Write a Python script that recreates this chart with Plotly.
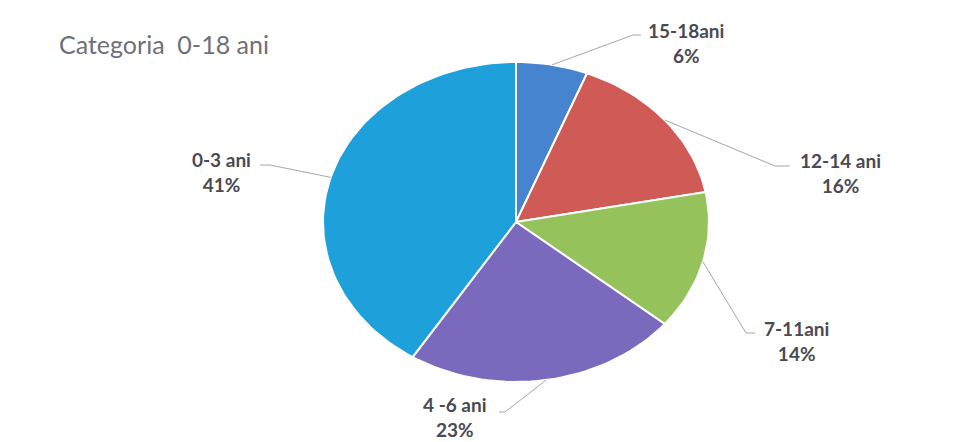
import numpy as np
import plotly.graph_objects as go

# ---- data ----
categories = ["15-18ani", "12-14 ani", "7-11ani", "4 -6 ani", "0-3 ani"]
values = [6, 16, 14, 23, 41]
colors = ["#4784d0", "#d05a55", "#96c25b", "#7b69bd", "#1ea0db"]

# ---- geometry of the (elliptical) pie, in page pixels ----
W, H = 959, 442
OFF = 8  # default page body margin
cx, cy, rx, ry = 516, 222, 193, 160

# label blocks: centre of text (x, y) and leader elbow (ex, ey, hx)
label_pos = [
    (686, 43, 633, 35, 641),
    (840, 173, 775, 166, 790),
    (796, 341, 746, 333, 755),
    (455, 417, 505, 412, 499),
    (221, 172, 270, 165, 260),
]

fig = go.Figure()
total = float(sum(values))
cum = np.concatenate([[0], np.cumsum(values)]) / total

def pt(frac):
    a = 2 * np.pi * frac
    return cx + rx * np.sin(a), cy - ry * np.cos(a)

for i, (cat, v) in enumerate(zip(categories, values)):
    f0, f1 = cum[i], cum[i + 1]
    fr = np.linspace(f0, f1, max(8, int(200 * (f1 - f0))))
    xs, ys = zip(*[pt(f) for f in fr])
    px = [cx] + list(xs) + [cx]
    py = [cy] + list(ys) + [cy]
    fig.add_trace(go.Scatter(x=px, y=py, fill="toself", fillcolor=colors[i],
                             mode="lines", line=dict(color="white", width=2),
                             hoverinfo="text", text=f"{cat}: {v}%", showlegend=False))

for i, (cat, v) in enumerate(zip(categories, values)):
    sx, sy = pt((cum[i] + cum[i + 1]) / 2)
    lx, ly, ex, ey, hx = label_pos[i]
    fig.add_trace(go.Scatter(x=[sx, ex, hx], y=[sy, ey, ey], mode="lines",
                             line=dict(color="#a6a6ab", width=1),
                             hoverinfo="skip", showlegend=False))
    pct = round(100 * v / total)
    fig.add_annotation(x=lx, y=ly, xref="x", yref="y", showarrow=False,
                       text=f"<b>{cat}</b><br><b>{pct}%</b>", align="center",
                       font=dict(family="Lato", size=19, color="#4a4a52"))

fig.add_annotation(x=57, y=44, xref="x", yref="y", showarrow=False,
                   xanchor="left", yanchor="middle",
                   text="Categoria  0-18 ani",
                   font=dict(family="Lato", size=25, color="#6f6f78"))

fig.update_layout(
    width=W - OFF, height=H - OFF, margin=dict(l=0, r=0, t=0, b=0),
    paper_bgcolor="white", plot_bgcolor="white",
    xaxis=dict(range=[OFF, W], visible=False, fixedrange=True),
    yaxis=dict(range=[H, OFF], visible=False, fixedrange=True),
)

fig.write_html("out.html")
